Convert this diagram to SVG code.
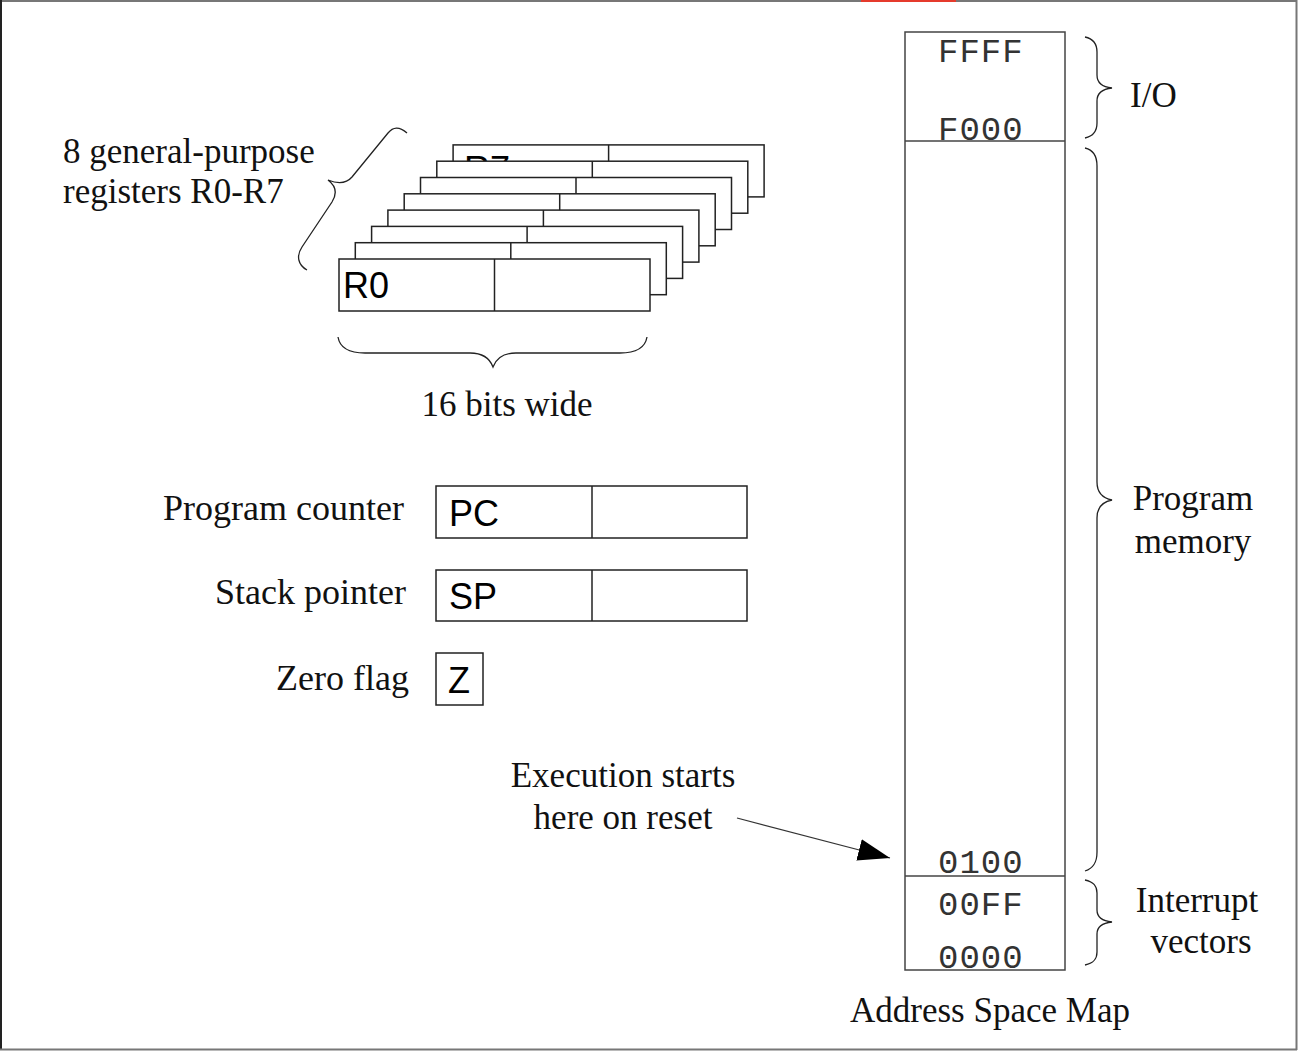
<svg xmlns="http://www.w3.org/2000/svg" width="1300" height="1054" viewBox="0 0 1300 1054">
<style>
.serif{font-family:"Liberation Serif","Times New Roman",serif;font-size:35px;fill:#111}
.mono{font-family:"Liberation Mono","Courier New",monospace;font-size:34px;fill:#333;letter-spacing:1px}
.sans{font-family:"Liberation Sans",Arial,sans-serif;font-size:36px;fill:#000}
.reg{fill:#fff;stroke:#222;stroke-width:1.5}
.div{stroke:#222;stroke-width:1.5}
.mem{fill:#fff;stroke:#444;stroke-width:1.5}
.brace{fill:none;stroke:#222;stroke-width:1.3}
</style>
<defs>
<marker id="arrow" markerUnits="userSpaceOnUse" markerWidth="34" markerHeight="24" refX="32" refY="11" orient="auto">
<path d="M0,0 L32,11 L0,22 Z" fill="#000"/>
</marker>
</defs>
<rect x="0" y="0" width="1300" height="1054" fill="#fff"/>
<g id="frame">
<line x1="0" y1="1" x2="1297" y2="1" stroke="#777" stroke-width="2"/>
<line x1="861" y1="1" x2="956" y2="1" stroke="#e53a2c" stroke-width="2"/>
<line x1="1" y1="0" x2="1" y2="1050" stroke="#222" stroke-width="2"/>
<line x1="1296.5" y1="0" x2="1296.5" y2="1050" stroke="#777" stroke-width="2"/>
<line x1="0" y1="1049.5" x2="1297" y2="1049.5" stroke="#777" stroke-width="2"/>
</g>
<g id="registers">
<g id="R7"><rect class="reg" x="453.1" y="144.9" width="311" height="52"/><line class="div" x1="608.6" y1="144.9" x2="608.6" y2="196.9"/><text class="sans" x="464" y="182">R7</text></g>
<g id="R6"><rect class="reg" x="436.8" y="161.2" width="311" height="52"/><line class="div" x1="592.3" y1="161.2" x2="592.3" y2="213.2"/></g>
<g id="R5"><rect class="reg" x="420.5" y="177.5" width="311" height="52"/><line class="div" x1="576" y1="177.5" x2="576" y2="229.5"/></g>
<g id="R4"><rect class="reg" x="404.2" y="193.8" width="311" height="52"/><line class="div" x1="559.7" y1="193.8" x2="559.7" y2="245.8"/></g>
<g id="R3"><rect class="reg" x="387.9" y="210.1" width="311" height="52"/><line class="div" x1="543.4" y1="210.1" x2="543.4" y2="262.1"/></g>
<g id="R2"><rect class="reg" x="371.6" y="226.4" width="311" height="52"/><line class="div" x1="527.1" y1="226.4" x2="527.1" y2="278.4"/></g>
<g id="R1"><rect class="reg" x="355.3" y="242.7" width="311" height="52"/><line class="div" x1="510.8" y1="242.7" x2="510.8" y2="294.7"/></g>
<g id="R0"><rect class="reg" x="339" y="259" width="311" height="52"/><line class="div" x1="494.5" y1="259" x2="494.5" y2="311"/><text class="sans" x="343" y="298">R0</text></g>
</g>
<g id="reg-label">
<text class="serif" x="63" y="163">8 general-purpose</text>
<text class="serif" x="63" y="203">registers R0-R7</text>
<path class="brace" d="M407,133 C399,126 393,127 388,133 L352,177 C346,184 338,184 328,180 C336,186 337,194 332,202 L302,247 C296,256 298,265 307,270"/>
</g>
<g id="width-label">
<path class="brace" d="M338,337 C340,349 350,353 365,353 L470,353 C484,353 490,359 493,367 C496,359 502,353 516,353 L620,353 C635,353 645,349 647,337"/>
<text class="serif" x="507" y="416" text-anchor="middle">16 bits wide</text>
</g>
<g id="PC">
<text class="serif" x="404" y="520" text-anchor="end" style="font-size:36px">Program counter</text>
<rect class="reg" x="436" y="486" width="311" height="52"/><line class="div" x1="592" y1="486" x2="592" y2="538"/>
<text class="sans" x="449" y="526">PC</text>
</g>
<g id="SP">
<text class="serif" x="406" y="604" text-anchor="end" style="font-size:36px">Stack pointer</text>
<rect class="reg" x="436" y="570" width="311" height="51"/><line class="div" x1="592" y1="570" x2="592" y2="621"/>
<text class="sans" x="449" y="609">SP</text>
</g>
<g id="Z">
<text class="serif" x="409" y="690" text-anchor="end" style="font-size:36px">Zero flag</text>
<rect class="reg" x="436" y="653" width="47" height="52"/>
<text class="sans" x="448" y="693">Z</text>
</g>
<g id="memory-map">
<rect class="mem" x="905" y="32" width="160" height="938"/>
<line class="mem" x1="905" y1="141" x2="1065" y2="141"/>
<line class="mem" x1="905" y1="876" x2="1065" y2="876"/>
<text class="mono" x="938" y="62">FFFF</text>
<text class="mono" x="938" y="140">F000</text>
<text class="mono" x="938" y="873">0100</text>
<text class="mono" x="938" y="915">00FF</text>
<text class="mono" x="938" y="968">0000</text>
<text class="serif" x="990" y="1022" text-anchor="middle">Address Space Map</text>
</g>
<g id="io-region">
<path class="brace" d="M1085,37 C1094,39 1097,44 1097,52 L1097,75 C1097,83 1102,87 1112,88 C1102,89 1097,93 1097,101 L1097,123 C1097,131 1094,136 1085,138"/>
<text class="serif" x="1130" y="107">I/O</text>
</g>
<g id="program-region">
<path class="brace" d="M1085,148 C1094,150 1097,156 1097,166 L1097,482 C1097,492 1102,498 1112,500 C1102,502 1097,508 1097,518 L1097,852 C1097,862 1094,868 1085,871"/>
<text class="serif" x="1193" y="510" text-anchor="middle">Program</text>
<text class="serif" x="1193" y="553" text-anchor="middle">memory</text>
</g>
<g id="interrupt-region">
<path class="brace" d="M1085,880 C1094,882 1097,886 1097,893 L1097,910 C1097,917 1102,921 1112,922 C1102,923 1097,927 1097,934 L1097,952 C1097,959 1094,963 1085,965"/>
<text class="serif" x="1197" y="912" text-anchor="middle">Interrupt</text>
<text class="serif" x="1201" y="953" text-anchor="middle">vectors</text>
</g>
<g id="reset-label">
<text class="serif" x="623" y="787" text-anchor="middle">Execution starts</text>
<text class="serif" x="623" y="829" text-anchor="middle">here on reset</text>
</g>
<g id="connectors">
<line x1="737" y1="818" x2="890" y2="858" stroke="#333" stroke-width="1.2" marker-end="url(#arrow)"/>
</g>
</svg>
